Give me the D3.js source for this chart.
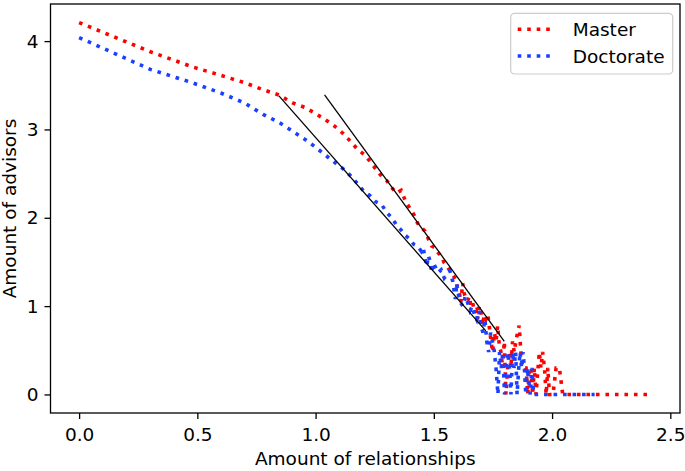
<!DOCTYPE html>
<html><head><meta charset="utf-8">
<script src="https://cdn.jsdelivr.net/npm/d3@7"></script>
<style>body{margin:0;background:#fff} svg{display:block} text{font-family:"DejaVu Sans",sans-serif;fill:#000}</style>
</head><body><svg id="c" width="685" height="471"></svg>
<script>
// log10(relationships) and log10(advisors)
const masterX = [0,0.301,0.477,0.602,0.699,0.778,0.845,0.903,0.954,1.0,1.041,1.079,1.114,1.146,1.176,1.204,1.23,1.255,1.279,1.301,1.322,1.342,1.362,1.38,1.398,1.415,1.431,1.447,1.462,1.477,1.491,1.505,1.519,1.531,1.544,1.556,1.568,
 1.579,1.593,1.600,1.607,1.614,1.622,1.628,1.636,1.643,1.650,1.657,1.664,1.671,1.678,1.685,1.692,1.699,1.706,1.713,1.720,1.728,1.734,1.742,1.749,1.756,1.763,1.770,1.777,1.784,1.791,1.798,1.805,1.812,1.819,1.826,1.833,1.840,1.847,1.854,1.861,1.868,1.876,1.883,1.890,1.897,1.904,1.911,1.918,1.925,1.932,1.946,1.953,1.960,1.968,1.975,1.982,1.989,2.004,2.017,2.031,2.045,2.42];
const masterY = [4.21,3.88,3.71,3.61,3.53,3.45,3.39,3.30,3.25,3.18,3.11,3.04,2.96,2.87,2.78,2.72,2.64,2.55,2.47,2.42,2.34,2.28,2.31,2.19,2.11,2.04,1.94,1.89,1.85,1.76,1.68,1.66,1.60,1.57,1.49,1.45,1.40,
 1.36,1.30,1.20,1.17,1.04,1.26,1.15,1.08,1.06,1.11,1.00,1.04,0.95,0.96,0.85,1.00,0.94,0.78,0.90,0.85,0.91,0.78,0.60,0.48,0.70,0.60,0.78,0.55,0.48,0.30,0.60,0,0.30,0.48,0.30,0.60,0.48,0.60,0.70,0.78,0.48,0.30,0.30,0.30,0,0.30,0.30,0,0.30,0,0.48,0.30,0.48,0.30,0,0.30,0,0,0.30,0.30,0,0];
const doctorateX = [0,0.301,0.477,0.602,0.699,0.778,0.845,0.903,0.954,1.0,1.041,1.079,1.114,1.146,1.176,1.204,1.23,1.255,1.279,1.301,1.322,1.342,1.362,1.38,1.398,1.415,1.431,1.447,1.455,
 1.462,1.470,1.477,1.484,1.491,1.498,1.505,1.519,1.531,1.544,1.556,1.568,1.580,1.591,1.597,1.602,1.613,1.623,1.633,1.643,1.653,1.663,1.672,1.681,1.690,1.699,1.708,1.716,1.724,1.732,1.740,1.748,1.756,1.763,1.771,1.778,1.785,1.792,1.799,1.806,1.813,1.820,1.826,1.833,1.839,1.846,1.852,1.859,1.865,1.871,1.877,1.883,1.889,1.895,1.908,1.915,1.922,2.18];
const doctorateY = [4.04,3.68,3.53,3.41,3.30,3.17,3.08,2.98,2.89,2.80,2.71,2.63,2.56,2.48,2.39,2.30,2.25,2.18,2.15,2.06,2.00,1.92,1.86,1.80,1.76,1.70,1.68,1.62,1.66,
 1.56,1.45,1.57,1.51,1.38,1.49,1.45,1.38,1.41,1.32,1.36,1.40,1.28,1.08,1.26,1.15,1.04,1.00,1.11,1.04,0.95,1.00,0.90,0.85,0.95,0.78,0.70,0.85,0.60,0.48,0.70,0.60,0.48,0.30,0,0.48,0.30,0.48,0,0.30,0.48,0.30,0,0.48,0.30,0.48,0,0.30,0.48,0.30,0.48,0.30,0,0.30,0,0.30,0,0];
// fitted lines (start, end)
const masterFitX = [1.038,1.798];
const masterFitY = [3.39,0.60];
const doctorateFitX = [0.845,1.72];
const doctorateFitY = [3.38,0.72];
const xTicks = [0,0.5,1.0,1.5,2.0,2.5];
const yTicks = [0,1,2,3,4];
const seriesNames = ["Master","Doctorate"];
const seriesColors = ["#ff0000","#1a3fff"];

const svg = d3.select("#c");
svg.append("rect").attr("width",685).attr("height",471).attr("fill","#fff");
const L=50.5,R=680,T=4,B=413;
const x = d3.scaleLinear().domain([-0.121,2.541]).range([L,R]);
const y = d3.scaleLinear().domain([-0.21,4.42]).range([B,T]);
const FS = 18.5;

const line = d3.line().x(d=>x(d[0])).y(d=>y(d[1]));
const series = [d3.zip(masterX,masterY), d3.zip(doctorateX,doctorateY)];
series.forEach((s,i)=>{
  svg.append("path").attr("d",line(s)).attr("fill","none")
    .attr("stroke",seriesColors[i]).attr("stroke-width",3.6)
    .attr("stroke-dasharray","3.6,5.9").attr("stroke-linecap","butt");
});
[d3.zip(masterFitX,masterFitY), d3.zip(doctorateFitX,doctorateFitY)].forEach(s=>{
  svg.append("path").attr("d",line(s)).attr("fill","none").attr("stroke","#000").attr("stroke-width",1.3);
});

const gx = svg.append("g").attr("transform",`translate(0,${B})`)
  .call(d3.axisBottom(x).tickValues(xTicks).tickFormat(d3.format(".1f")).tickSize(6).tickPadding(9));
const gy = svg.append("g").attr("transform",`translate(${L},0)`)
  .call(d3.axisLeft(y).tickValues(yTicks).tickFormat(d3.format("d")).tickSize(6).tickPadding(6));
[gx,gy].forEach(g=>{
  g.select(".domain").remove();
  g.selectAll("line").attr("stroke","#000").attr("stroke-width",1.3);
  g.selectAll("text").attr("font-size",FS).attr("font-family","DejaVu Sans").attr("fill","#000");
});
svg.append("rect").attr("x",L).attr("y",T).attr("width",R-L).attr("height",B-T)
  .attr("fill","none").attr("stroke","#000").attr("stroke-width",1.3);

svg.append("text").attr("x",(L+R)/2).attr("y",465).attr("text-anchor","middle").attr("font-size",FS).text("Amount of relationships");
svg.append("text").attr("transform",`translate(16,${(T+B)/2}) rotate(-90)`).attr("text-anchor","middle").attr("font-size",FS).text("Amount of advisors");

const lg = svg.append("g");
lg.append("rect").attr("x",510.7).attr("y",13.3).attr("width",162).attr("height",60.7).attr("rx",4)
  .attr("fill","#fff").attr("fill-opacity",0.8).attr("stroke","#cccccc").attr("stroke-width",1.2);
seriesNames.forEach((n,i)=>{
  const yy = 29.3 + i*26.7;
  lg.append("line").attr("x1",517.7).attr("x2",553).attr("y1",yy).attr("y2",yy)
    .attr("stroke",seriesColors[i]).attr("stroke-width",3.6).attr("stroke-dasharray","3.6,5.9");
  lg.append("text").attr("x",572.7).attr("y",yy).attr("dy","0.36em").attr("font-size",FS).text(n);
});
</script></body></html>
